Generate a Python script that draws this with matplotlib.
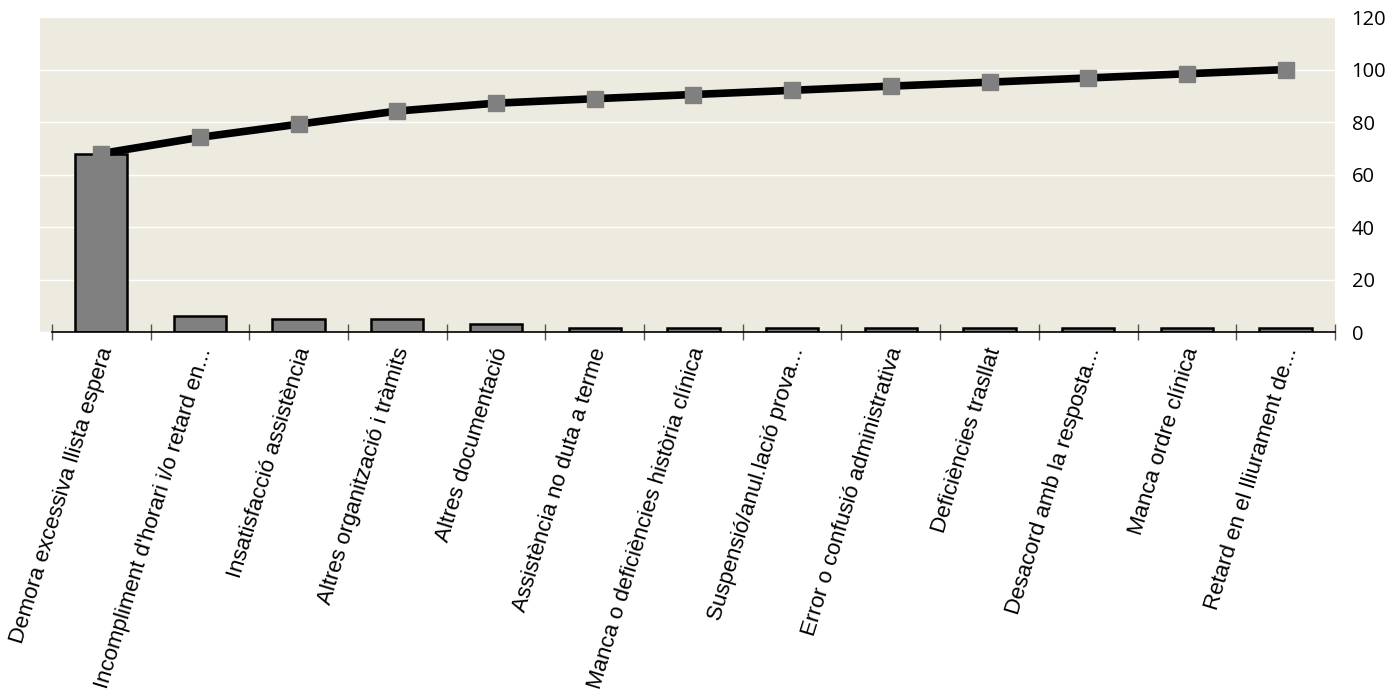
import numpy as np
import matplotlib.pyplot as plt

# categories and values
categories = ['Demora excessiva llista espera', "Incompliment d'horari i/o retard en...",
              'Insatisfacció assistència', 'Altres organització i tràmits',
              'Altres documentació', 'Assistència no duta a terme',
              'Manca o deficiències història clínica', 'Suspensió/anul.lació prova...',
              'Error o confusió administrativa', 'Deficiències trasllat',
              'Desacord amb la resposta...', 'Manca ordre clínica',
              'Retard en el lliurament de...']
percent = [68.0, 6.2, 5.0, 5.0, 3.0, 1.7, 1.6, 1.6, 1.6, 1.5, 1.6, 1.6, 1.6]
cumulative = [68.0, 74.2, 79.2, 84.2, 87.2, 88.9, 90.5, 92.1, 93.7, 95.2, 96.8, 98.4, 100.0]
yticks = [0, 20, 40, 60, 80, 100, 120]

fig = plt.figure(figsize=(13.97, 6.95), dpi=100)
ax = fig.add_axes([0.0286, 0.522, 0.927, 0.4535])
ax.set_facecolor('#EDEADF')

x = np.arange(len(categories))
ax.bar(x, percent, width=0.53, color='#808080', edgecolor='black', linewidth=1.8, zorder=3)
ax.plot(x, cumulative, color='black', linewidth=5.5, marker='s', markersize=11.5,
        markerfacecolor='#808080', markeredgecolor='#808080', zorder=4)

ax.set_xlim(-0.5 - 0.12, len(categories) - 0.5)
ax.set_ylim(0, 120)
ax.yaxis.tick_right()
ax.set_yticks(yticks)
ax.tick_params(axis='y', length=0, pad=12, labelsize=14.5)
for lab in ax.get_yticklabels():
    lab.set_fontfamily('Open Sans')
ax.grid(axis='y', color='white', linewidth=1, zorder=0)

# category boundaries as ticks
ax.set_xticks(np.arange(len(categories) + 1) - 0.5)
ax.set_xticklabels([])
ax.tick_params(axis='x', direction='inout', length=12, width=1, color='#555555')
for i, name in enumerate(categories):
    ax.text(i + 0.06, -6, name, rotation=73, rotation_mode='anchor', ha='right', va='center',
            fontsize=16, fontfamily='Liberation Sans')

for side in ['top', 'left', 'right']:
    ax.spines[side].set_visible(False)
ax.spines['bottom'].set_bounds(-0.5, len(categories) - 0.5)
ax.spines['bottom'].set_color('black')
ax.spines['bottom'].set_linewidth(1.2)
ax.spines['bottom'].set_zorder(5)

plt.savefig('out.png', dpi=100)
